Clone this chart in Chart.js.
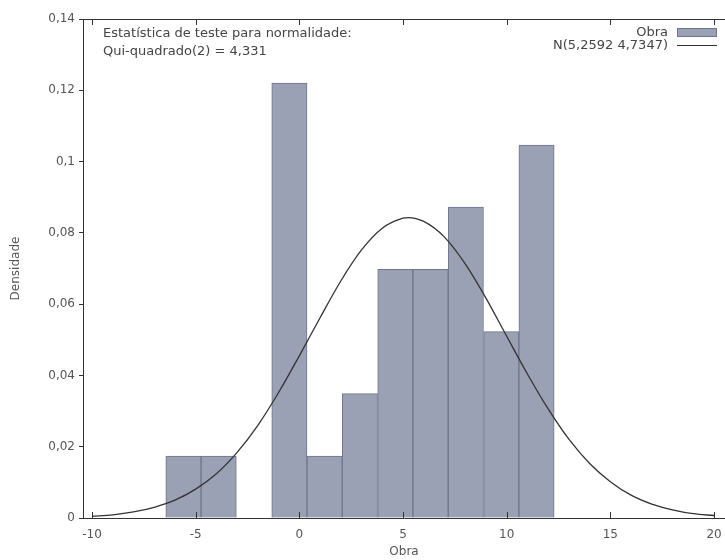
<!DOCTYPE html>
<html>
<head>
<meta charset="utf-8">
<script src="https://cdn.jsdelivr.net/npm/chart.js@4/dist/chart.umd.min.js"></script>
<style>
  body { margin: 0; background: #fff; }
  #wrap { position: relative; width: 725px; height: 560px; overflow: hidden; font-family: "DejaVu Sans", sans-serif; color: #444; }
  .note { position: absolute; left: 103px; top: 24px; font-size: 13px; line-height: 18px; white-space: nowrap; }
  .key { position: absolute; right: 57px; top: 25px; font-size: 13px; line-height: 13px; text-align: right; white-space: nowrap; }
  .swatch { position: absolute; left: 677px; top: 28px; width: 38px; height: 7px; background: #9ba1b4; border: 1px solid #6f758c; }
  .stroke { position: absolute; left: 677px; top: 45px; width: 40px; height: 0; border-top: 1.3px solid #333; }
</style>
</head>
<body>
<div id="wrap">
  <canvas id="chart" width="725" height="560"></canvas>
  <div class="note">Estatística de teste para normalidade:<br>Qui-quadrado(2) = 4,331</div>
  <div class="key">Obra<br>N(5,2592 4,7347)</div>
  <div class="swatch"></div>
  <div class="stroke"></div>
</div>
<script>
// histogram bins (centers) and densities
const binCenters = [-5.59, -3.89, -0.48, 1.22, 2.92, 4.63, 6.33, 8.03, 9.74, 11.44];
const densities = [0.0174, 0.0174, 0.1220, 0.0174, 0.0349, 0.0698, 0.0698, 0.0872, 0.0523, 0.1046];

// normal curve N(5,2592 4,7347)
const curveX = [-10, -9, -8, -7, -6, -5, -4, -3, -2, -1, 0, 1, 2, 3, 4, 5, 5.26, 6, 7, 8, 9, 10, 11, 12, 13, 14, 15, 16, 17, 18, 19, 20];
const curveY = [0.0005, 0.0009, 0.0017, 0.0030, 0.0050, 0.0081, 0.0124, 0.0184, 0.0260, 0.0352, 0.0455, 0.0562, 0.0665, 0.0752, 0.0813, 0.0841, 0.0843,
  0.0832, 0.0788, 0.0713, 0.0617, 0.0510, 0.0404, 0.0306, 0.0221, 0.0153, 0.0102, 0.0064, 0.0039, 0.0023, 0.0012, 0.0007];

const xTicks = [-10, -5, 0, 5, 10, 15, 20];
const yTicks = [0, 0.02, 0.04, 0.06, 0.08, 0.1, 0.12, 0.14];

const fmt = (v) => Number(v.toFixed(2)).toString().replace(".", ",");

// gnuplot-ish frame: top border plus inward x tics
const frame = {
    id: "frame",
    afterDatasetsDraw(chart) {
        const { ctx, chartArea: a, scales: { x } } = chart;
        ctx.save();
        ctx.strokeStyle = "#333";
        ctx.lineWidth = 1;
        ctx.beginPath();
        ctx.moveTo(a.left, a.top + 0.5);
        ctx.lineTo(a.right, a.top + 0.5);
        xTicks.forEach((v) => {
            const px = Math.round(x.getPixelForValue(v)) + 0.5;
            ctx.moveTo(px, a.bottom);
            ctx.lineTo(px, a.bottom - 6);
            ctx.moveTo(px, a.top);
            ctx.lineTo(px, a.top + 6);
        });
        ctx.stroke();
        ctx.restore();
    }
};

new Chart(document.getElementById("chart"), {
    data: {
        datasets: [
            {
                type: "line",
                label: "N(5,2592 4,7347)",
                data: curveX.map((x, i) => ({ x, y: curveY[i] })),
                borderColor: "#333",
                borderWidth: 1.3,
                pointRadius: 0,
                cubicInterpolationMode: "monotone",
                order: 0
            },
            {
                type: "bar",
                label: "Obra",
                data: binCenters.map((x, i) => ({ x, y: densities[i] })),
                backgroundColor: "#9ba1b4",
                borderColor: "#6f758c",
                borderWidth: 1,
                barPercentage: 1,
                categoryPercentage: 1,
                order: 1
            }
        ]
    },
    options: {
        responsive: false,
        animation: false,
        layout: { padding: { top: 19, right: 0, left: 0, bottom: 0 } },
        plugins: {
            legend: { display: false },
            tooltip: { enabled: false }
        },
        scales: {
            x: {
                type: "linear",
                offset: false,
                min: -10.434,
                max: 20.53,
                afterFit: (s) => { s.height = 42; s.paddingLeft = 0; s.paddingRight = 0; },
                afterBuildTicks: (s) => { s.ticks = xTicks.map((v) => ({ value: v })); },
                grid: { display: false, drawTicks: false, offset: false },
                border: { display: true, color: "#333", width: 1 },
                ticks: {
                    padding: 10,
                    maxRotation: 0,
                    autoSkip: false,
                    color: "#555",
                    font: { family: "DejaVu Sans", size: 12 },
                    callback: (v) => String(v)
                },
                title: {
                    display: true,
                    text: "Obra",
                    color: "#555",
                    font: { family: "DejaVu Sans", size: 12 },
                    padding: { top: 0, bottom: 1 }
                }
            },
            y: {
                min: 0,
                max: 0.14,
                afterFit: (s) => { s.width = 83; s.paddingTop = 0; s.paddingBottom = 0; },
                afterBuildTicks: (s) => { s.ticks = yTicks.map((v) => ({ value: v })); },
                grid: { drawOnChartArea: false, drawTicks: true, tickLength: 4, color: "#333" },
                border: { display: true, color: "#333", width: 1 },
                ticks: {
                    padding: 4,
                    color: "#555",
                    font: { family: "DejaVu Sans", size: 12 },
                    callback: (v) => fmt(v)
                },
                title: {
                    display: true,
                    text: "Densidade",
                    color: "#555",
                    font: { family: "DejaVu Sans", size: 12 },
                    padding: { top: 9, bottom: 0 }
                }
            }
        }
    },
    plugins: [frame]
});
</script>
</body>
</html>
